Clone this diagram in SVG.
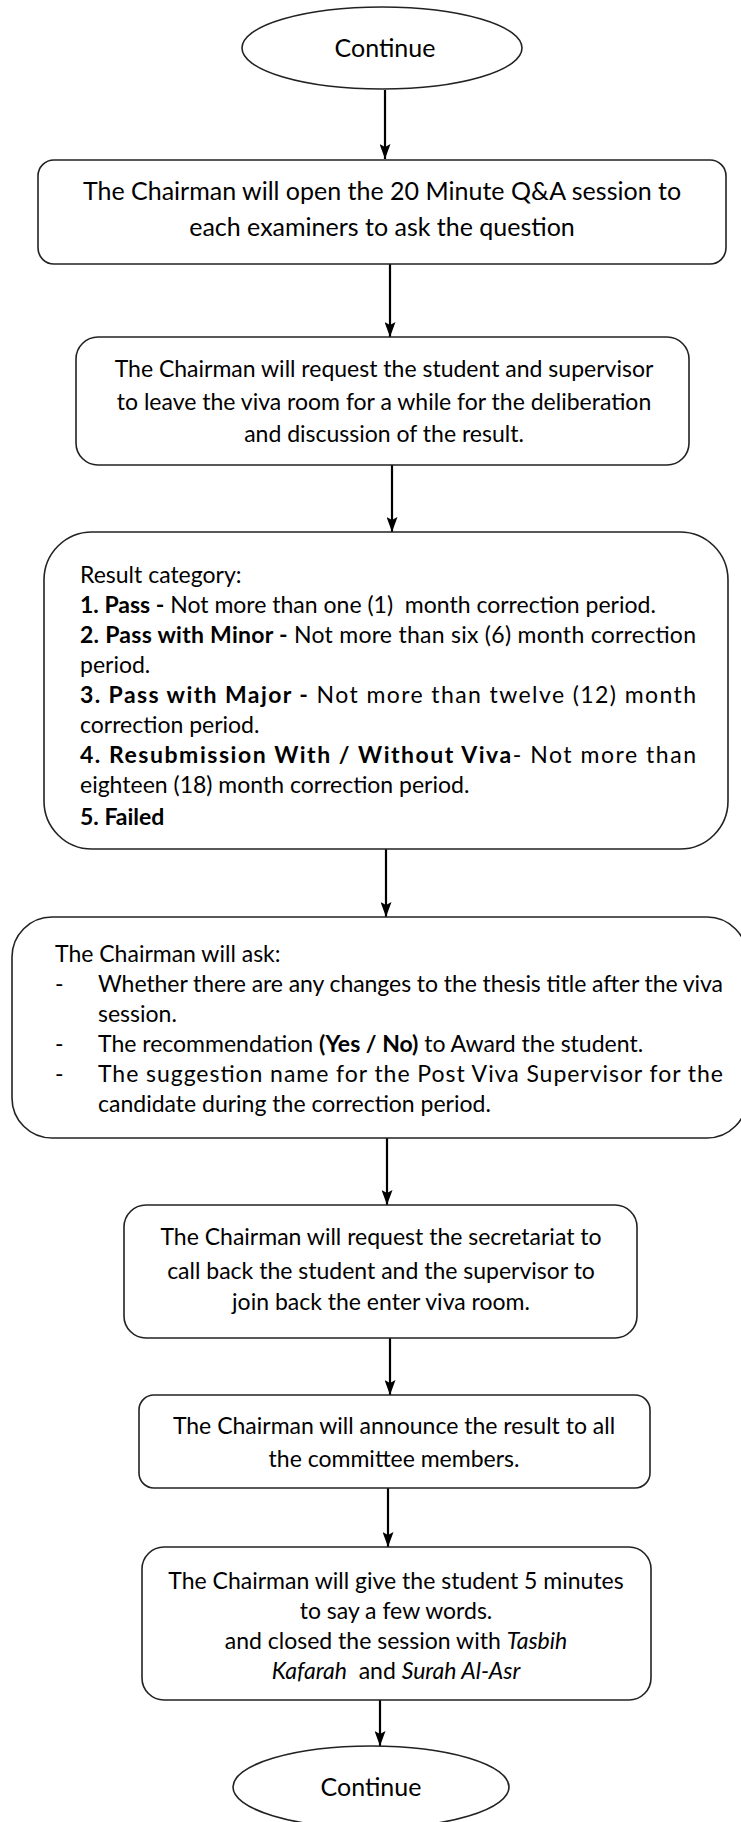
<svg xmlns="http://www.w3.org/2000/svg" width="741" height="1822" viewBox="0 0 741 1822">
<style>
  .box { fill: #ffffff; stroke: #222222; stroke-width: 1.6; }
  .t { font-family: Lato, "Open Sans", "Liberation Sans", sans-serif; font-size: 23px; fill: #000000; }
  .big { font-size: 25px; }
  .c { text-anchor: middle; }
  .b { font-weight: bold; }
  .i { font-style: italic; }
  .conn { stroke: #000000; stroke-width: 2.2; fill: none; marker-end: url(#arr); }
</style>
<defs>
  <marker id="arr" viewBox="0 0 15 11" refX="15" refY="5.5" markerWidth="15" markerHeight="11" markerUnits="userSpaceOnUse" orient="auto">
    <path d="M0,0 L15,5.5 L0,11 L3,5.5 Z" fill="#000000"/>
  </marker>
</defs>
<rect width="741" height="1822" fill="#ffffff"/>

<g id="connectors">
  <line class="conn" x1="385" y1="90" x2="385" y2="159"/>
  <line class="conn" x1="390" y1="264" x2="390" y2="337"/>
  <line class="conn" x1="392" y1="465" x2="392" y2="532"/>
  <line class="conn" x1="386" y1="849" x2="386" y2="917"/>
  <line class="conn" x1="387" y1="1138" x2="387" y2="1205"/>
  <line class="conn" x1="390" y1="1330" x2="390" y2="1395"/>
  <line class="conn" x1="388" y1="1480" x2="388" y2="1547"/>
  <line class="conn" x1="380" y1="1700" x2="380" y2="1746"/>
</g>

<g id="start">
  <ellipse class="box" cx="382" cy="48" rx="140" ry="41"/>
  <text class="t big c" x="385" y="57">Continue</text>
</g>

<g id="open-qa">
  <rect class="box" x="38" y="160" width="688" height="104" rx="16"/>
  <text class="t big c" x="382" y="200">The Chairman will open the 20 Minute Q&amp;A session to</text>
  <text class="t big c" x="382" y="236">each examiners to ask the question</text>
</g>

<g id="leave-room">
  <rect class="box" x="76" y="337" width="613" height="128" rx="22"/>
  <text class="t c" x="384" y="377">The Chairman will request the student and supervisor</text>
  <text class="t c" x="384" y="410">to leave the viva room for a while for the deliberation</text>
  <text class="t c" x="384" y="442">and discussion of the result.</text>
</g>

<g id="result-category">
  <rect class="box" x="44" y="532" width="684" height="317" rx="48"/>
  <text class="t" x="80" y="583">Result category:</text>
  <text class="t" x="80" y="613" xml:space="preserve"><tspan class="b">1. Pass -</tspan> Not more than one (1)  month correction period.</text>
  <text class="t" x="80" y="643" textLength="616" lengthAdjust="spacing"><tspan class="b">2. Pass with Minor -</tspan> Not more than six (6) month correction</text>
  <text class="t" x="80" y="673">period.</text>
  <text class="t" x="80" y="703" textLength="616" lengthAdjust="spacing"><tspan class="b">3. Pass with Major -</tspan> Not more than twelve (12) month</text>
  <text class="t" x="80" y="733">correction period.</text>
  <text class="t" x="80" y="763" textLength="616" lengthAdjust="spacing"><tspan class="b">4. Resubmission With / Without Viva</tspan>- Not more than</text>
  <text class="t" x="80" y="793">eighteen (18) month correction period.</text>
  <text class="t b" x="80" y="825">5. Failed</text>
</g>

<g id="chairman-ask">
  <rect class="box" x="12" y="917" width="735" height="221" rx="40"/>
  <text class="t" x="55" y="962">The Chairman will ask:</text>
  <text class="t" x="55" y="992">-</text>
  <text class="t" x="98" y="992" textLength="625" lengthAdjust="spacing">Whether there are any changes to the thesis title after the viva</text>
  <text class="t" x="98" y="1022">session.</text>
  <text class="t" x="55" y="1052">-</text>
  <text class="t" x="98" y="1052">The recommendation <tspan class="b">(Yes / No)</tspan> to Award the student.</text>
  <text class="t" x="55" y="1082">-</text>
  <text class="t" x="98" y="1082" textLength="625" lengthAdjust="spacing">The suggestion name for the Post Viva Supervisor for the</text>
  <text class="t" x="98" y="1112">candidate during the correction period.</text>
</g>

<g id="call-back">
  <rect class="box" x="124" y="1205" width="513" height="133" rx="22"/>
  <text class="t c" x="381" y="1245">The Chairman will request the secretariat to</text>
  <text class="t c" x="381" y="1279">call back the student and the supervisor to</text>
  <text class="t c" x="381" y="1310">join back the enter viva room.</text>
</g>

<g id="announce">
  <rect class="box" x="139" y="1395" width="511" height="93" rx="15"/>
  <text class="t c" x="394" y="1434">The Chairman will announce the result to all</text>
  <text class="t c" x="394" y="1467">the committee members.</text>
</g>

<g id="closing">
  <rect class="box" x="142" y="1547" width="509" height="153" rx="22"/>
  <text class="t c" x="396" y="1589">The Chairman will give the student 5 minutes</text>
  <text class="t c" x="396" y="1619">to say a few words.</text>
  <text class="t c" x="396" y="1649">and closed the session with <tspan class="i">Tasbih</tspan></text>
  <text class="t c" x="396" y="1679" xml:space="preserve"><tspan class="i">Kafarah</tspan>  and <tspan class="i">Surah Al-Asr</tspan></text>
</g>

<g id="end">
  <ellipse class="box" cx="371" cy="1787" rx="138" ry="41"/>
  <text class="t big c" x="371" y="1796">Continue</text>
</g>
</svg>
